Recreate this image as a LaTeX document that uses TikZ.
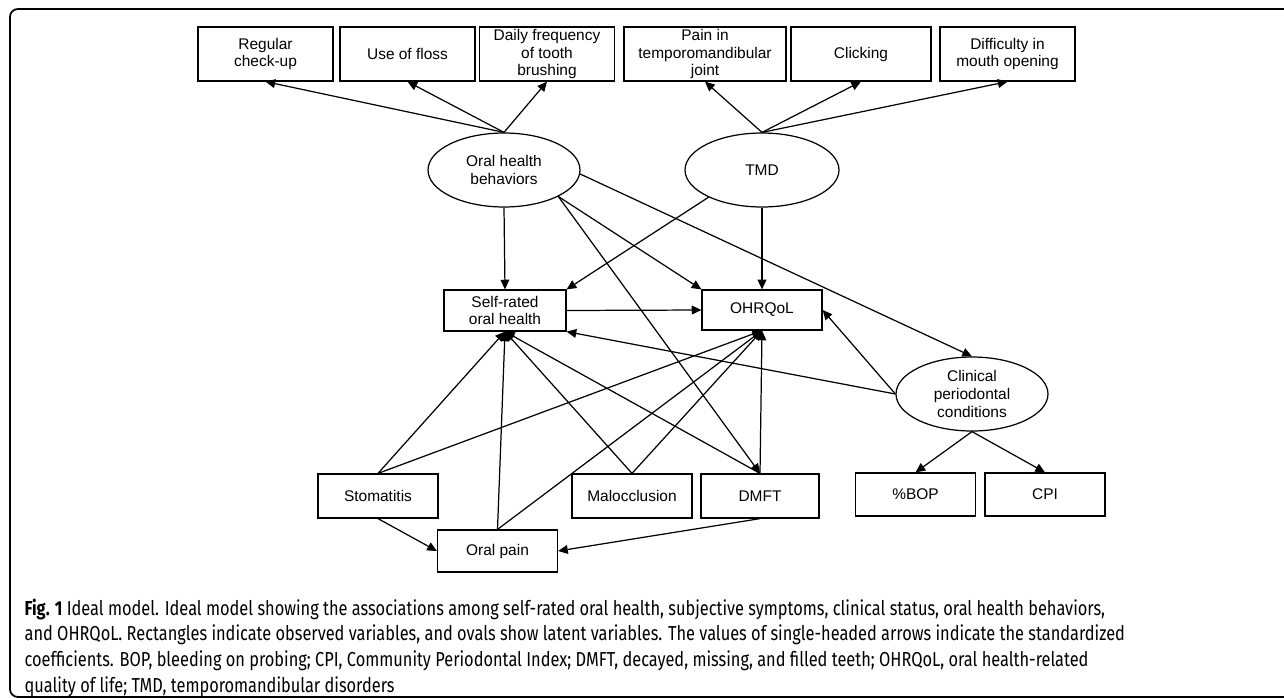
\documentclass[tikz,border=0pt]{standalone}
\usepackage{fontspec}
\setmainfont{Liberation Sans}
\newfontfamily\capfont[FakeStretch=0.81]{Fira Sans}
\usetikzlibrary{shapes.geometric, arrows.meta}

\begin{document}
\begin{tikzpicture}[x=0.02cm, y=-0.02cm, line width=0.7pt,
    obs/.style={draw, rectangle, align=center, inner sep=1pt, font=\fontsize{8.8}{10}\selectfont},
    topbox/.style={obs, minimum width=2.7cm, minimum height=1.08cm},
    box/.style={obs, minimum width=2.4cm, minimum height=0.88cm},
    lat/.style={draw, ellipse, align=center, inner sep=0pt, minimum width=3.04cm, minimum height=1.48cm, font=\fontsize{8.8}{10}\selectfont},
    arr/.style={-{Triangle[length=5.5pt,width=5pt]}}]
    \useasboundingbox (0,0) rectangle (1284,697);
    \draw[line width=1pt, rounded corners=4.5pt] (10,9) rectangle (1300,697);

    % observed indicators at the top
    \node[topbox] at (265.5,54) (reg) {Regular\\check-up};
    \node[topbox] at (407.5,54) (floss) {Use of floss};
    \node[topbox] at (547,54) (brush) {Daily frequency\\of tooth\\brushing};
    \node[topbox, minimum width=3.24cm] at (705,54) (tmj) {Pain in\\temporomandibular\\joint};
    \node[topbox, minimum width=2.8cm] at (861,54) (click) {Clicking};
    \node[topbox] at (1007.5,54) (open) {Difficulty in\\mouth opening};

    % latent variables
    \node[lat] at (504,170) (ohb) {Oral health\\behaviors};
    \node[lat, minimum width=3.08cm] at (762,170) (tmd) {TMD};
    \node[lat] at (972,394) (clin) {Clinical\\periodontal\\conditions};

    \node[obs, minimum width=2.44cm, minimum height=0.82cm] at (505,310.5) (srh) {Self-rated\\oral health};
    \node[obs, minimum width=2.4cm, minimum height=0.8cm] at (762,310) (qol) {OHRQoL};

    \node[box] at (378,496) (stom) {Stomatitis};
    \node[box, minimum height=0.84cm] at (497.5,551) (pain) {Oral pain};
    \node[box] at (632,496) (maloc) {Malocclusion};
    \node[box, minimum width=2.36cm] at (760,496) (dmft) {DMFT};
    \node[box, minimum height=0.86cm] at (915.5,494.5) (bop) {\%BOP};
    \node[box, minimum height=0.86cm] at (1045,494.5) (cpi) {CPI};

    \draw[arr] (ohb.north) -- (reg.south);
    \draw[arr] (ohb.north) -- (floss.south);
    \draw[arr] (ohb.north) -- (brush.south);
    \draw[arr] (tmd.north) -- (tmj.south);
    \draw[arr] (tmd.north) -- (click.south);
    \draw[arr] (tmd.north) -- (open.south);

    \draw[arr] (ohb.south) -- (srh.north);
    \draw[arr] (tmd.207) -- (srh.north east);
    \draw[arr] (ohb.-26) -- (qol.north west);
    \draw[arr] (ohb.-26) -- (dmft.north);
    \draw[arr] (ohb.-3) -- (clin.north);
    \draw[arr] (tmd.south) -- (qol.north);
    \draw[arr] (srh.east) -- (qol.west);
    \draw[arr] (clin.west) -- (qol.east);
    \draw[arr] (clin.west) -- (srh.south east);
    \draw[arr] (clin.south) -- (bop.north);
    \draw[arr] (clin.south) -- (cpi.north);

    \foreach \n in {stom, pain, maloc, dmft} {
        \draw[arr] (\n.north) -- (srh.south);
        \draw[arr] (\n.north) -- (qol.south);
    }
    \draw[arr] (stom.south) -- (pain.west);
    \draw[arr] (dmft.south) -- (pain.east);

    \node[anchor=north west, inner sep=0pt, align=left, font=\capfont\fontsize{11.5}{14.74}\selectfont] at (24,598) (cap) {\textbf{Fig. 1} Ideal model. Ideal model showing the associations among self-rated oral health, subjective symptoms, clinical status, oral health behaviors,\\
    and OHRQoL. Rectangles indicate observed variables, and ovals show latent variables. The values of single-headed arrows indicate the standardized\\
    coefficients. BOP, bleeding on probing; CPI, Community Periodontal Index; DMFT, decayed, missing, and filled teeth; OHRQoL, oral health-related\\
    quality of life; TMD, temporomandibular disorders};
\end{tikzpicture}
\end{document}
